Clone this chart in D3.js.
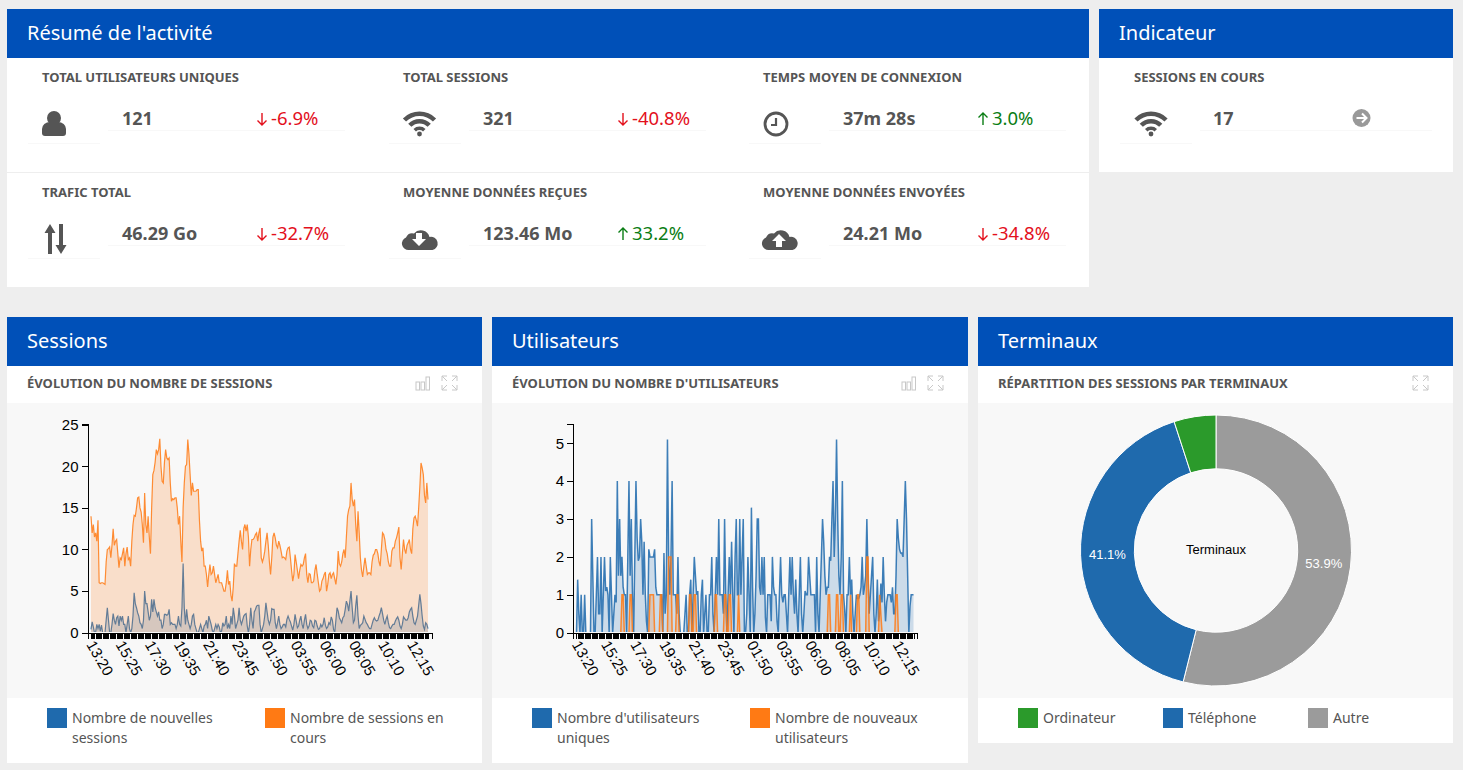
<!DOCTYPE html>
<html>
<head>
<meta charset="utf-8">
<script src="https://cdn.jsdelivr.net/npm/d3@7"></script>
<style>
html, body { margin: 0; padding: 0; background: #eeeeee; overflow: hidden; }
svg { display: block; }
text { font-family: "Noto Sans", sans-serif; }
.axis text { font-family: "Liberation Sans", Arial, sans-serif; font-size: 15px; fill: #000; }
.axis path, .axis line { stroke: #000; shape-rendering: crispEdges; }
</style>
</head>
<body>
<svg width="1463" height="770"></svg>
<script>
// kpi blocks
var kpiLabels = ["TOTAL UTILISATEURS UNIQUES", "TOTAL SESSIONS", "TEMPS MOYEN DE CONNEXION",
    "TRAFIC TOTAL", "MOYENNE DONNÉES REÇUES", "MOYENNE DONNÉES ENVOYÉES"];
var kpiValues = ["121", "321", "37m 28s", "46.29 Go", "123.46 Mo", "24.21 Mo"];
var kpiDeltas = [-6.9, -40.8, 3.0, -32.7, 33.2, -34.8];
var kpiIcons = ["user", "wifi", "clock", "updown", "clouddown", "cloudup"];

var xTickLabels = ["13:20", "15:25", "17:30", "19:35", "21:40", "23:45", "01:50", "03:55", "06:00", "08:05", "10:10", "12:15"];

// sessions chart
var sessionsNew = [
    0.4,1.3,0.7,0,0.1,1,0.5,1,0.2,0.9,0,0,0,1.5,3,1.5,0,0,1,2.3,1.5,1,1.8,2,0.8,2,1.5,2,1,1,
    0,1,2,0.5,0,0.5,2,4.8,3.5,3,2.4,2,1.2,1,0.5,1.5,5,3.5,3.5,2.5,1.5,2,4,2.5,4,3,2.5,2,2.5,1.5,
    1.5,0.5,1,2.2,2.2,2.1,2.2,2.8,1,1.2,1,1,1,0.5,1,2,1,0.8,3,8.3,3,1,2.8,1.5,1,0.5,1,2,2.2,1,
    0.5,0,0,0.5,1,0.5,0,0.8,1,1.5,0.5,2,1.5,1,0.3,0,0.5,1,0.5,1,0.7,0,0.2,1.2,0.8,1,2,0.5,1,0.5,
    2,1,3,2,0.5,1,1.5,3,1.5,1,1.5,2,2.2,2.3,0.8,0,1,3,1.5,0.5,2.5,2.8,3.2,3.3,3.3,1,0,0.5,1,2,
    3.6,2.5,1.5,1,1.5,2.9,2.8,2.8,1.2,0.5,1.2,2,1,0.5,0.7,1,1,0.7,1.6,2,1.6,1.3,0.8,0.3,1,2.2,1.4,0.6,0.8,1.5,
    2,1,0.5,1.5,2.2,1,0.5,0.8,1.5,1.4,0.8,0.6,1.5,1.4,0.8,0.4,0.5,1,0.7,1,1.8,0.9,0.5,0.7,1.2,1,1.9,1.5,0.4,0,
    1.5,3,2.6,1.8,1.5,1.2,1.8,2,2.8,3.8,3.4,2.6,3.8,5,3,1.2,1.5,3.2,4.5,2,0.5,0.9,1,1.2,2,1.6,1.2,1,0.7,0.5,
    0.5,1,1.5,1.8,1.5,1.4,1.5,2,2.4,3,2.3,1.5,1,1.6,2,1.2,0.6,0.5,0.8,1,1,1.4,1.7,1.9,1.5,0.8,0.5,1,1.9,1.7,
    1.5,1.5,1.8,2.5,2.8,3,2,1.2,1,1.5,2,3.3,4.6,3.5,2,0.8,0.4,1.2,1,0.5
];
var sessionsCurrent = [
    14,12,13,11.5,12,11,13.5,6,5.9,6,6,5.9,5.8,8.5,10,10.1,10.3,9,10.5,12.5,10.5,11,11.2,9.5,7.8,9,8.8,9.5,10.2,8,
    9.5,10.3,8.8,9,8,11,13,14.1,14,15,16.2,16.3,15,14.5,13,10.8,16.8,13,12,14,11.5,9.5,15,19,19.5,20.5,22,21.5,22,23.3,
    20,18.2,18,20.5,22,21,20.8,21,18,15.8,16.1,16,16.2,16.2,15,13,14,11,8.5,15,18,20,20.2,23.2,21.5,19,16.5,18,17,17,
    17,17.2,17.2,13.5,11,9.8,10.2,8,8,7,5.5,7,8.2,7,7.2,8,7,6,6.5,7,6,6,6,5.5,5,5,6,7.5,5.8,6.2,
    4.5,3.8,5.5,8.3,8,8,9.5,11,12.3,11,10,12.5,13,12.2,13,11.5,8,10,11.2,11.2,11.4,11.8,12,11,12,12.6,9,8.5,9,9.8,
    11,12,10.5,8.5,7,9,11.5,12,11.4,10.5,10.2,11,10.5,9.8,9,9.1,9,8.8,9.8,10.2,10.3,9,7.5,6.2,7,9.4,8.5,7.5,6.5,7.5,
    8.2,8,8.2,9,9.5,7,6,7.1,7,6,6,6.2,7.5,8.2,7,6,5,5.2,6.2,6.5,7,7.3,5,5.8,7,7.2,6.5,7,7.2,6.5,
    5.8,7,9.8,8.3,8,8.5,9.5,10,9,11.5,14,14.8,15.2,18,16,15.2,16,13,11,14.6,12,9,7.5,6.7,8,9,8,7,7.2,7.2,
    7,8.5,9.3,9.5,10,10,9.5,8.5,8,10,12,11.8,11.2,10,9.5,8.5,8,8,9.8,10.2,10.2,11,11.4,12,12.7,9,7.6,9.5,11.2,10,
    9.5,10.5,10.8,11.2,10,9.5,12.5,13.8,14,13.5,12.8,15,17.5,20.4,19.8,19,16.5,15.6,18,16
];

// users chart
var usersUnique = [
    0,1.4,0.5,0,1,0,0,1,0,0,0,0,0,3,1.5,0,0,1,2,0.5,0.5,2,0,1,2,1.1,1.2,1,0,2,
    1,0,0.5,1,0.8,4,1.5,3,1.5,2,1.2,1,1,0,2,4,1.5,3,1,0,2,4,2.5,1.9,2,3,2.4,1,2.4,1,
    0.3,0,2.2,2,2,2,2,2.2,1.2,1,1,1,1,1,0,2.1,0.5,1,5.1,2,1,2,4,1,1,1,0.5,2,0.5,0,
    0,0,0,0.5,1,0,0,1,1.4,0,1,2,1.5,1,1.1,0,0,1,1.4,0,0.5,1,0,0,1,1,2,0.5,0,1,
    2,1,3,1,1,1,0.5,3,1,0,1,2,1,2.4,1,0,2,3,1,1,3,1,2,3,0,0,0.5,2,1,0,
    3.3,1.2,0,0.5,1.5,3,3,1.2,1,2,1,2,0.4,0,1,1,1,0.3,2,1.2,1,1,0.3,0,1,2,1,0.8,1,1,
    0.5,0,1,2,1,2,1,0.5,1.4,0.5,0,1,2,0.5,0,0.5,1.1,1,1,2,1.5,1,1,1,1,0,2,0.5,0,1,
    2,3,2.4,1.5,1,1.2,1.2,2,1.9,3,4,2,3,5.1,3,1.5,1,2,4,1,0.6,0,1,1,2,1,1.4,0.5,0,0.5,
    1,0.9,0.9,1,1.2,2,1,1.2,1.5,3,1.5,0.5,1,1.5,2,0.5,0,0.5,1.4,0.3,0.5,1.3,0.8,2,1,0.3,0.8,1,1,1,
    0.8,1.2,0.5,0.5,1.5,3,2.5,2.2,2.1,2.1,2,3,4,3,1.5,0,0.7,1,1,1
];
var usersNew = [
    0,0,0,0,0,0,0,0,0,0,0,0,0,0,0,0,0,0,0,0,0,0,0,0,0,0,0,0,0,0,
    0,0,0,0,0,0,0,0,0,1,1,0,0,0,0,0,1,1,0,0,0,0,0,0,0,0,0,0,0,0,
    0,0,0,1,1,1,1,0,0,0,0,0,1,1,0,0,0,0,0,2,2,2,0,0,0,0,1,1,0,0,
    0,0,0,0,0,0,0,1,1,0,0,1,1,0,0,0,0,0,0,0,0,0,0,0,0,0,0,0,0,1,
    1,0,0,0,0,0,0,1,1,0,0,1,1,0,0,0,0,0,0,1,0,0,0,0,0,0,0,0,0,0,
    0,0,0,0,0,0,0,0,0,0,0,0,0,0,0,0,0,0,0,0,0,0,0,0,0,0,0,0,0,0,
    0,0,0,0,0,0,0,0,0,0,0,0,0,0,0,0,0,0,0,0,0,0,0,0,0,0,0,0,0,0,
    0,0,0,0,0,0,1,1,0,0,0,0,0,1,1,0,0,1,1,0,0,0,0,0,0,1,0,0,0,0,
    0,1,1,0,0,0,0,0,0,2,2,0,0,0,0,0,0,0,0,0,1,0.5,0,0,0,0,0,0,0,0,
    0,0,0,0,1,1,0,0,0,0,0,0,0,0,0,0,0,0,0,0
];

// device split
var deviceNames = ["Autre", "Téléphone", "Ordinateur"];
var deviceShares = [53.9, 41.1, 5.0];
var deviceColors = ["#9b9b9b", "#1f6aad", "#2b9a2b"];

var BLUE = "#1f6aad";
var ORANGE = "#ff7a14";
var TEXT = "#555555";

var svg = d3.select("svg");

function panel(x, y, w, h, title) {
    svg.append("rect").attr("x", x).attr("y", y).attr("width", w).attr("height", h).attr("fill", "#fff");
    svg.append("rect").attr("x", x).attr("y", y).attr("width", w).attr("height", 49).attr("fill", "#0050b8");
    svg.append("text").attr("x", x + 20).attr("y", y + 31)
        .attr("fill", "#fff").attr("font-size", 20).text(title);
}

function wifiIcon(g) {
    var arc = d3.arc().startAngle(-Math.PI / 4).endAngle(Math.PI / 4);
    [[19, 23.5], [11.5, 16], [5, 8.5]].forEach(function (r) {
        g.append("path").attr("fill", TEXT)
            .attr("d", arc({innerRadius: r[0], outerRadius: r[1]}));
    });
    g.append("circle").attr("cy", -1).attr("r", 2.4).attr("fill", TEXT);
}

function cloud(g) {
    g.append("path").attr("fill", TEXT)
        .attr("d", "M-10,12 a6.5,6.5 0 0 1 -3,-12.5 a7,7 0 0 1 8,-4 a9,9 0 0 1 15.5,3.5 a6.5,6.5 0 0 1 3,13 z");
}

function drawIcon(type, x, y) {
    var g = svg.append("g").attr("transform", "translate(" + x + "," + y + ")");
    if (type === "user") {
        g.append("circle").attr("cy", -6).attr("r", 7).attr("fill", TEXT);
        g.append("path").attr("fill", TEXT)
            .attr("d", "M-12,9 v-4 a8,7 0 0 1 8,-7 h8 a8,7 0 0 1 8,7 v4 a3,3 0 0 1 -3,3 h-18 a3,3 0 0 1 -3,-3 z");
    } else if (type === "wifi") {
        g.attr("transform", "translate(" + x + "," + (y + 11) + ")");
        wifiIcon(g);
    } else if (type === "clock") {
        g.append("circle").attr("r", 11).attr("fill", "none").attr("stroke", TEXT).attr("stroke-width", 2.8);
        g.append("path").attr("fill", "none").attr("stroke", TEXT).attr("stroke-width", 2.2)
            .attr("d", "M0,-6 V1 H-5");
    } else if (type === "updown") {
        g.append("path").attr("fill", TEXT)
            .attr("d", "M-5.5,-15 L-11,-6 H-7.5 V15 H-3.5 V-6 H0 Z M5.5,15 L11,6 H7.5 V-15 H3.5 V6 H0 Z");
    } else if (type === "clouddown") {
        cloud(g);
        g.append("path").attr("fill", "#fff").attr("d", "M-3,-5 h6 v6 h4 l-7,7 l-7,-7 h4 z");
    } else if (type === "cloudup") {
        cloud(g);
        g.append("path").attr("fill", "#fff").attr("d", "M-3,9 h6 v-6 h4 l-7,-7 l-7,7 h4 z");
    }
}

function rule(x1, x2, y) {
    svg.append("line").attr("x1", x1).attr("x2", x2).attr("y1", y).attr("y2", y)
        .attr("stroke", "#f8f8f8").attr("stroke-width", 1);
}

function kpiHead(label, x, y) {
    svg.append("text").attr("x", x).attr("y", y).attr("fill", TEXT)
        .attr("font-size", 13).attr("font-weight", 700).text(label);
}

function deltaArrow(x, y, up, color) {
    var d = up ? "M0,6 V-6 M-4.5,-1.5 L0,-6 L4.5,-1.5" : "M0,-6 V6 M-4.5,1.5 L0,6 L4.5,1.5";
    svg.append("path").attr("transform", "translate(" + x + "," + y + ")")
        .attr("d", d).attr("fill", "none").attr("stroke", color).attr("stroke-width", 1.4);
}

// top panels
panel(7, 9, 1082, 278, "Résumé de l'activité");
panel(1099, 9, 354, 163, "Indicateur");
svg.append("line").attr("x1", 7).attr("x2", 1089).attr("y1", 172.5).attr("y2", 172.5).attr("stroke", "#eee");

var colX = [42, 403, 763];
var iconSpots = {user: [54, 124], wifi: [419.5, 124], clock: [776, 124], updown: [55.5, 239], clouddown: [419, 238], cloudup: [779, 238]};
kpiLabels.forEach(function (label, i) {
    var x = colX[i % 3], row = Math.floor(i / 3), dy = row * 115;
    var up = kpiDeltas[i] > 0;
    var color = up ? "#0a7d14" : "#e3101c";
    kpiHead(label, x, 82 + dy);
    drawIcon(kpiIcons[i], iconSpots[kpiIcons[i]][0], iconSpots[kpiIcons[i]][1]);
    svg.append("text").attr("x", x + 80).attr("y", 125 + dy).attr("fill", TEXT)
        .attr("font-size", 18).attr("font-weight", 700).text(kpiValues[i]);
    deltaArrow(x + 220, 119 + dy, up, color);
    svg.append("text").attr("x", x + 229).attr("y", 125 + dy).attr("fill", color)
        .attr("font-size", 18.5).text(kpiDeltas[i].toFixed(1) + "%");
    rule(x + 66, x + 303, 130.5 + dy);
    rule(x - 14, x + 58, 143.5 + dy);
});

kpiHead("SESSIONS EN COURS", 1134, 82);
drawIcon("wifi", 1151, 124);
svg.append("text").attr("x", 1213).attr("y", 125).attr("fill", TEXT)
    .attr("font-size", 18).attr("font-weight", 700).text("17");
svg.append("circle").attr("cx", 1361.5).attr("cy", 118).attr("r", 9).attr("fill", "#999");
svg.append("path").attr("d", "M1356.5,118 H1366 M1362,113.5 L1366.5,118 L1362,122.5")
    .attr("fill", "none").attr("stroke", "#fff").attr("stroke-width", 2);
rule(1200, 1432, 130.5);
rule(1120, 1192, 143.5);

// chart panels
function chartFrame(x, w, h, title, subtitle, withBars) {
    panel(x, 317, w, h, title);
    svg.append("text").attr("x", x + 20).attr("y", 388).attr("fill", TEXT)
        .attr("font-size", 13).attr("font-weight", 700).text(subtitle);
    svg.append("rect").attr("x", x).attr("y", 403).attr("width", w).attr("height", 295).attr("fill", "#f8f8f8");
    var ex = x + w - 40;
    svg.append("path")
        .attr("d", "M" + ex + ",381 v-5 h5 M" + ex + ",376 l5,5 M" + (ex + 15) + ",381 v-5 h-5 M" + (ex + 15) + ",376 l-5,5" +
            "M" + ex + ",385 v5 h5 M" + ex + ",390 l5,-5 M" + (ex + 15) + ",385 v5 h-5 M" + (ex + 15) + ",390 l-5,-5")
        .attr("fill", "none").attr("stroke", "#c8c8c8").attr("stroke-width", 1);
    if (withBars) {
        var bx = x + w - 66;
        [[0, 8], [5, 8], [10, 13]].forEach(function (b) {
            svg.append("rect").attr("x", bx + b[0]).attr("y", 390 - b[1]).attr("width", 3.5).attr("height", b[1])
                .attr("fill", "none").attr("stroke", "#c8c8c8");
        });
    }
}

function legendItem(x, y, color, lines) {
    svg.append("rect").attr("x", x).attr("y", y).attr("width", 20).attr("height", 20).attr("fill", color);
    lines.forEach(function (line, i) {
        svg.append("text").attr("x", x + 25).attr("y", y + 15 + i * 20).attr("fill", TEXT)
            .attr("font-size", 14).text(line);
    });
}

function areaChart(left, seriesA, seriesB, yMax, yTicks, lineWidth) {
    var x = d3.scalePoint().domain(d3.range(seriesA.length)).range([left, left + 344]).padding(3);
    var y = d3.scaleLinear().domain([0, yMax]).range([632.7, 423.5]);
    var area = d3.area().x(function (d, i) { return x(i); }).y0(y(0)).y1(function (d) { return y(d); });
    var line = d3.line().x(function (d, i) { return x(i); }).y(function (d) { return y(d); });

    // flat runs at zero stay behind the axis band
    var clipId = "plot" + Math.round(left);
    svg.append("clipPath").attr("id", clipId).append("rect")
        .attr("x", left).attr("y", 410).attr("width", 344).attr("height", 222);

    var plot = svg.append("g").attr("clip-path", "url(#" + clipId + ")");
    [[seriesA, BLUE], [seriesB, ORANGE]].forEach(function (s) {
        plot.append("path").attr("d", area(s[0])).attr("fill", s[1]).attr("fill-opacity", 0.2);
        plot.append("path").attr("d", line(s[0])).attr("fill", "none").attr("stroke", s[1])
            .attr("stroke-width", lineWidth).attr("stroke-opacity", 0.85);
    });

    svg.append("g").attr("class", "axis")
        .attr("transform", "translate(" + left + ",0)")
        .call(d3.axisLeft(y).tickValues(yTicks).tickSizeOuter(6).tickFormat(d3.format("d")))
        .call(function (g) { g.selectAll("text").attr("x", -9); });

    var gx = svg.append("g").attr("class", "axis")
        .attr("transform", "translate(0,632.7)")
        .call(d3.axisBottom(x).tickSizeOuter(6).tickFormat(function (d) {
            return d % 25 === 0 ? xTickLabels[d / 25] : "";
        }));
    gx.selectAll("text")
        .attr("text-anchor", "start")
        .attr("transform", "rotate(60)")
        .attr("x", 7.5).attr("y", 5.3).attr("dy", "0.35em");
}

chartFrame(7, 475, 446, "Sessions", "ÉVOLUTION DU NOMBRE DE SESSIONS", true);
chartFrame(492, 476, 446, "Utilisateurs", "ÉVOLUTION DU NOMBRE D'UTILISATEURS", true);
chartFrame(978, 475, 426, "Terminaux", "RÉPARTITION DES SESSIONS PAR TERMINAUX", false);

areaChart(87.5, sessionsNew, sessionsCurrent, 25.14, [0, 5, 10, 15, 20, 25], 1.2);
areaChart(573, usersUnique, usersNew, 5.52, [0, 1, 2, 3, 4, 5], 1.5);

legendItem(47, 708, BLUE, ["Nombre de nouvelles", "sessions"]);
legendItem(265, 708, ORANGE, ["Nombre de sessions en", "cours"]);
legendItem(532, 708, BLUE, ["Nombre d'utilisateurs", "uniques"]);
legendItem(750, 708, ORANGE, ["Nombre de nouveaux", "utilisateurs"]);

// donut
var pie = d3.pie().sort(null);
var arc = d3.arc().innerRadius(81.7).outerRadius(135.5);
var donut = svg.append("g").attr("transform", "translate(1216,550.5)");
var slices = pie(deviceShares);
donut.selectAll("path").data(slices).enter().append("path")
    .attr("d", arc)
    .attr("fill", function (d, i) { return deviceColors[i]; })
    .attr("stroke", "#fff").attr("stroke-width", 1);
donut.selectAll("text.pct").data(slices.slice(0, 2)).enter().append("text")
    .attr("class", "pct")
    .attr("transform", function (d) { return "translate(" + arc.centroid(d) + ")"; })
    .attr("text-anchor", "middle").attr("dy", "0.35em")
    .attr("fill", "#fff")
    .style("font-family", "'Liberation Sans', Arial, sans-serif").style("font-size", "13px")
    .text(function (d) { return d.value.toFixed(1) + "%"; });
donut.append("text").attr("text-anchor", "middle").attr("dy", "0.3em")
    .style("font-family", "'Liberation Sans', Arial, sans-serif").style("font-size", "13px")
    .attr("fill", "#000").text("Terminaux");

legendItem(1018, 708, deviceColors[2], [deviceNames[2]]);
legendItem(1163, 708, deviceColors[1], [deviceNames[1]]);
legendItem(1308, 708, deviceColors[0], [deviceNames[0]]);
</script>
</body>
</html>
